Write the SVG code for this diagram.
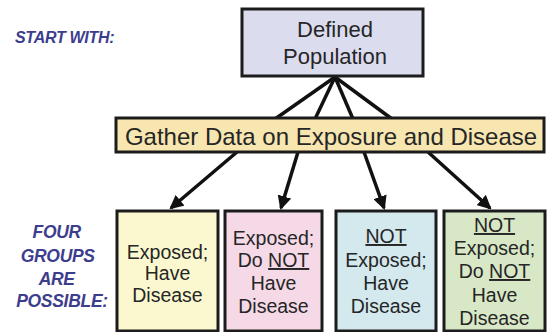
<svg xmlns="http://www.w3.org/2000/svg" width="551" height="332" viewBox="0 0 551 332">
<defs>
<style>
.box{stroke:#1c1c1c;stroke-width:3}
.t{font-family:"Liberation Sans",Arial,sans-serif;fill:#262626;text-anchor:middle}
.lbl{font-family:"Liberation Sans",Arial,sans-serif;font-weight:bold;font-style:italic;fill:#3d3d8e}
.u{text-decoration:underline}
.c{stroke:#111;stroke-width:3.5;fill:none}
</style>
<marker id="ah" markerWidth="4" markerHeight="4" refX="3.4" refY="2" orient="auto" markerUnits="strokeWidth">
<path d="M0,0 L4,2 L0,4 Z" fill="#111"/>
</marker>
</defs>
<rect width="551" height="332" fill="#ffffff"/>
<g id="connectors">
<line class="c" x1="335" y1="77" x2="275" y2="119"/>
<line class="c" x1="335" y1="77" x2="315" y2="119"/>
<line class="c" x1="335" y1="77" x2="353" y2="119"/>
<line class="c" x1="335" y1="77" x2="392" y2="119"/>
<line class="c" x1="237" y1="152" x2="171" y2="208" marker-end="url(#ah)"/>
<line class="c" x1="298" y1="152" x2="281" y2="208" marker-end="url(#ah)"/>
<line class="c" x1="364" y1="152" x2="384" y2="208" marker-end="url(#ah)"/>
<line class="c" x1="428" y1="152" x2="490" y2="208" marker-end="url(#ah)"/>
</g>
<g id="label-start">
<text class="lbl" x="15" y="43" font-size="16" letter-spacing="-0.3">START WITH:</text>
</g>
<g id="label-four">
<text class="lbl" font-size="17.5" text-anchor="middle" letter-spacing="-0.3">
<tspan x="59" y="238">FOUR</tspan>
<tspan x="60" y="262">GROUPS</tspan>
<tspan x="59" y="285">ARE</tspan>
<tspan x="62" y="307">POSSIBLE:</tspan>
</text>
</g>
<g id="population">
<rect class="box" x="242" y="9" width="181" height="67" fill="#dcdcef"/>
<text class="t" font-size="22"><tspan x="335" y="37">Defined</tspan><tspan x="335" y="64">Population</tspan></text>
</g>
<g id="gather">
<rect class="box" x="116" y="118" width="428" height="34" fill="#f7e6b0"/>
<text class="t" x="331" y="145" font-size="24">Gather Data on Exposure and Disease</text>
</g>
<g id="group1">
<rect class="box" x="117" y="211" width="101" height="120" fill="#fbf8d0"/>
<text class="t" font-size="19.5"><tspan x="167.5" y="259">Exposed;</tspan><tspan x="167.5" y="280">Have</tspan><tspan x="167.5" y="302">Disease</tspan></text>
</g>
<g id="group2">
<rect class="box" x="225" y="211" width="97" height="120" fill="#f5d9e6"/>
<text class="t" font-size="19.5"><tspan x="273.5" y="245">Exposed;</tspan><tspan x="273.5" y="267">Do <tspan class="u">NOT</tspan></tspan><tspan x="273.5" y="290">Have</tspan><tspan x="273.5" y="313">Disease</tspan></text>
</g>
<g id="group3">
<rect class="box" x="336" y="211" width="100" height="120" fill="#d3e9ee"/>
<text class="t" font-size="19.5"><tspan x="386" y="243" class="u">NOT</tspan><tspan x="386" y="267">Exposed;</tspan><tspan x="386" y="290">Have</tspan><tspan x="386" y="313">Disease</tspan></text>
</g>
<g id="group4">
<rect class="box" x="444" y="211" width="101" height="120" fill="#d8e8c6"/>
<text class="t" font-size="19.5"><tspan x="494.5" y="232" class="u">NOT</tspan><tspan x="494.5" y="255">Exposed;</tspan><tspan x="494.5" y="278">Do <tspan class="u">NOT</tspan></tspan><tspan x="494.5" y="302">Have</tspan><tspan x="494.5" y="325">Disease</tspan></text>
</g>
</svg>
